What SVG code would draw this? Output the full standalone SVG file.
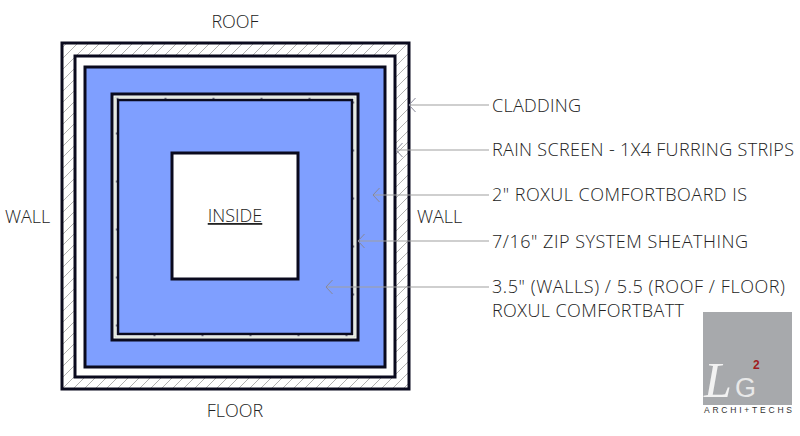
<svg xmlns="http://www.w3.org/2000/svg" width="800" height="436" viewBox="0 0 800 436">
<style>
text{font-family:"Open Sans","Noto Sans","Liberation Sans",sans-serif;font-size:18px;fill:#222;font-weight:300}
.k{stroke:#0a0a1e;stroke-width:3}
.l{stroke:#a0a0a0;stroke-width:1.2;fill:none}
.blue{fill:#7f9fff}
</style>
<defs>
<pattern id="h" width="11" height="11" patternUnits="userSpaceOnUse"><path d="M-2 13L13 -2M-2 2L2 -2M9 13L13 9" stroke="#b0b0b0" stroke-width="1" fill="none"/></pattern>
<marker id="a" markerUnits="userSpaceOnUse" markerWidth="9" markerHeight="16" refX="8" refY="8" orient="auto"><path d="M1.5 1L8 8L1.5 15" fill="none" stroke="#889" stroke-width="1"/></marker>
</defs>
<rect width="800" height="436" fill="#fff"/>
<g id="walls">
<rect x="62" y="43" width="347" height="346" fill="url(#h)" class="k"/>
<rect x="75" y="56" width="320" height="321" fill="#fff" class="k"/>
<rect x="85" y="67" width="300" height="300" class="k blue"/>
<rect x="112" y="94" width="246" height="246" fill="#fff" class="k"/>
<rect x="115" y="97" width="240" height="240" fill="none" stroke="#c9d4c4" stroke-width="1"/>
<rect x="116.5" y="98.5" width="237" height="237" fill="none" stroke="#778" stroke-width="1.5" stroke-dasharray="2 46"/>
<rect x="118" y="100" width="234" height="234" class="k blue" style="stroke-width:2.5"/>
</g>
<g id="inside">
<rect x="172" y="153" width="126" height="126" fill="#fff" class="k"/>
<text x="235" y="222" text-anchor="middle" text-decoration="underline">INSIDE</text>
</g>
<g id="connectors">
<path class="l" d="M489 105H409" marker-end="url(#a)"/>
<path class="l" d="M489 150H396" marker-end="url(#a)"/>
<path class="l" d="M489 195H373" marker-end="url(#a)"/>
<path class="l" d="M489 241H358" marker-end="url(#a)"/>
<path class="l" d="M489 287H326" marker-end="url(#a)"/>
</g>
<g id="labels">
<text x="235" y="28" text-anchor="middle">ROOF</text>
<text x="235" y="417" text-anchor="middle">FLOOR</text>
<text x="5" y="223">WALL</text>
<text x="417" y="223">WALL</text>
<text x="492" y="112" textLength="89">CLADDING</text>
<text x="492" y="156" textLength="302">RAIN SCREEN - 1X4 FURRING STRIPS</text>
<text x="492" y="201" textLength="255">2" ROXUL COMFORTBOARD IS</text>
<text x="492" y="248" textLength="256">7/16" ZIP SYSTEM SHEATHING</text>
<text x="492" y="293" textLength="293">3.5" (WALLS) / 5.5 (ROOF / FLOOR)</text>
<text x="492" y="317" textLength="192">ROXUL COMFORTBATT</text>
</g>
<g id="logo">
<rect x="703" y="312" width="89" height="93" fill="#a7a9ac"/>
<text x="704" y="397" style="font-family:'Liberation Serif',serif;font-style:italic;font-size:50px;fill:#f2f2f2">L</text>
<text x="735" y="397" style="font-family:'Liberation Sans',sans-serif;font-size:27px;font-weight:400;fill:#e8e8e8">G</text>
<text x="753" y="369" style="font-family:'Liberation Sans',sans-serif;font-size:12px;font-weight:700;fill:#a01c20">2</text>
<text x="704" y="413" textLength="88" style="font-family:'Liberation Sans',sans-serif;font-size:8.5px;font-weight:400;fill:#333">ARCHI+TECHS</text>
</g>
</svg>
